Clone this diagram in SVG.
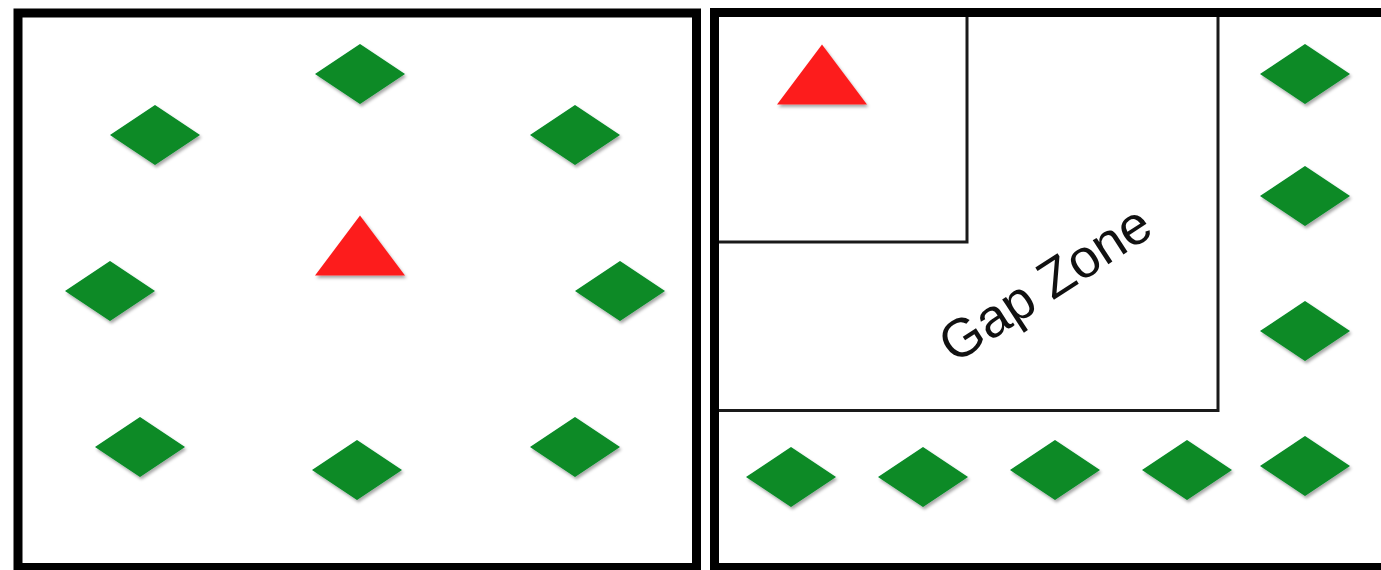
<svg xmlns="http://www.w3.org/2000/svg" xmlns:xlink="http://www.w3.org/1999/xlink" width="1381" height="570" viewBox="0 0 1381 570">
<style>
.panel{fill:#fff;stroke:#000;stroke-width:9}
.zone{fill:none;stroke:#1a1a1a;stroke-width:3}
.dia{fill:#078a28;filter:url(#sh)}
.tri{fill:#fd1f1f;filter:url(#sh)}
.lbl{font-family:"Liberation Sans",Arial,sans-serif;font-size:54px;fill:#111}
</style>
<defs>
<filter id="sh" x="-20%" y="-20%" width="140%" height="150%">
<feDropShadow dx="1.5" dy="2.5" stdDeviation="1.5" flood-color="#000" flood-opacity="0.35"/>
</filter>
<polygon id="d" points="-45,0 0,-30 45,0 0,30"/>
<polygon id="t" points="0,-30 45,30 -45,30"/>
</defs>
<rect width="1381" height="570" fill="#fff"/>
<g id="left-panel">
<rect class="panel" x="18" y="13" width="678.5" height="554.5"/>
</g>
<g id="right-panel">
<rect class="panel" x="714.5" y="12.5" width="720" height="555"/>
</g>
<g id="connectors">
<path class="zone" d="M719 242H967V17"/>
<path class="zone" d="M719 410.5H1218V17"/>
</g>
<g id="left-nodes">
<use class="dia" href="#d" x="360" y="74"/>
<use class="dia" href="#d" x="155" y="135"/>
<use class="dia" href="#d" x="575" y="135"/>
<use class="dia" href="#d" x="110" y="291"/>
<use class="dia" href="#d" x="620" y="291"/>
<use class="dia" href="#d" x="140" y="447"/>
<use class="dia" href="#d" x="357" y="470"/>
<use class="dia" href="#d" x="575" y="447"/>
<use class="tri" href="#t" x="360" y="245.5"/>
</g>
<g id="right-nodes">
<use class="tri" href="#t" x="822" y="74.5"/>
<use class="dia" href="#d" x="1305" y="74"/>
<use class="dia" href="#d" x="1305" y="196"/>
<use class="dia" href="#d" x="1305" y="331"/>
<use class="dia" href="#d" x="1305" y="466"/>
<use class="dia" href="#d" x="791" y="477"/>
<use class="dia" href="#d" x="923" y="477"/>
<use class="dia" href="#d" x="1055" y="470"/>
<use class="dia" href="#d" x="1187" y="470"/>
</g>
<g id="gap-zone-label">
<text class="lbl" x="1055" y="299" text-anchor="middle" transform="rotate(-33 1055 299)">Gap Zone</text>
</g>
</svg>
